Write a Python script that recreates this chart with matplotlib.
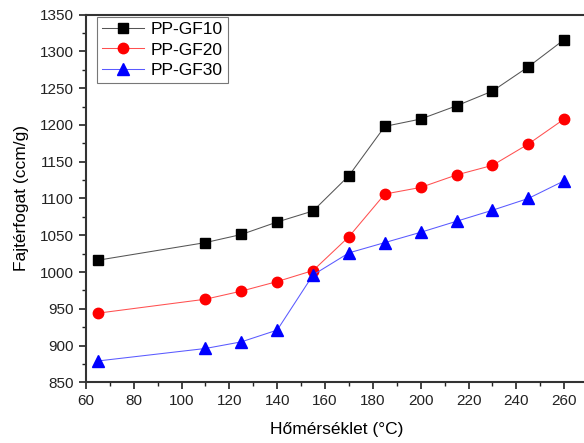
import matplotlib
matplotlib.use("Agg")
import matplotlib.pyplot as plt
from matplotlib.ticker import MultipleLocator

plt.rcParams['font.family'] = ['Liberation Sans', 'DejaVu Sans']

# temperatures (°C)
temp = [65, 110, 125, 140, 155, 170, 185, 200, 215, 230, 245, 260]

# specific volume (ccm/g)
gf10 = [1016, 1040, 1051, 1068, 1083, 1131, 1198, 1208, 1226, 1246, 1279, 1316]
gf20 = [944, 963, 974, 987, 1002, 1048, 1106, 1115, 1132, 1145, 1174, 1208]
gf30 = [879, 896, 905, 921, 996, 1026, 1040, 1054, 1069, 1084, 1100, 1124]

fig = plt.figure(figsize=(5.84, 4.43), dpi=100)
ax = fig.add_axes([0.147, 0.137, 0.860, 0.830])

ax.plot(temp, gf10, color='#555555', lw=0.75, marker='s', ms=6.5, mfc='black', mec='black', label='PP-GF10')
ax.plot(temp, gf20, color='#ff5050', lw=0.75, marker='o', ms=7.5, mfc='red', mec='red', label='PP-GF20')
ax.plot(temp, gf30, color='#5a5aff', lw=0.75, marker='^', ms=8, mfc='blue', mec='blue', label='PP-GF30')

ax.set_xlim(60, 270)
ax.set_ylim(850, 1350)
ax.xaxis.set_major_locator(MultipleLocator(20))
ax.xaxis.set_minor_locator(MultipleLocator(10))
ax.yaxis.set_major_locator(MultipleLocator(50))
ax.yaxis.set_minor_locator(MultipleLocator(25))
ax.tick_params(which='major', direction='out', length=5, width=1.2, labelsize=11, colors='#222222')
ax.tick_params(which='minor', direction='out', length=3, width=1.0, colors='#222222')
for s in ax.spines.values():
    s.set_linewidth(1.5)
    s.set_color('#333333')

ax.set_xlabel('Hőmérséklet (°C)', fontsize=12.5, labelpad=10)
ax.set_ylabel('Fajtérfogat (ccm/g)', fontsize=12.5, labelpad=8)

leg = ax.legend(loc='upper left', bbox_to_anchor=(0.022, 0.994), borderaxespad=0,
                fontsize=12.5, frameon=True, fancybox=False,
                edgecolor='#555555', handlelength=2.4,
                borderpad=0.3, labelspacing=0.3, handletextpad=0.4)
leg.get_frame().set_linewidth(0.8)

fig.savefig('out.png', dpi=100)
